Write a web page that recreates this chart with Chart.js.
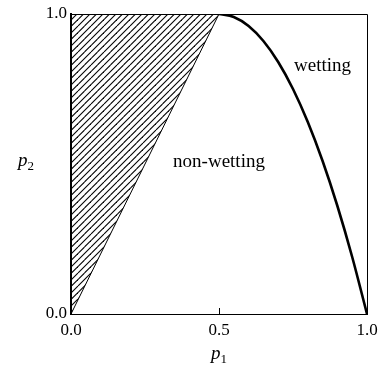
<!DOCTYPE html>
<html>
<head>
<meta charset="utf-8">
<script src="https://cdn.jsdelivr.net/npm/chart.js@4"></script>
<style>
  html, body { margin: 0; padding: 0; background: #fff; }
  #wrap { width: 379px; height: 376px; position: relative; }
</style>
</head>
<body>
<div id="wrap"><canvas id="chart1"></canvas></div>
<script>
// phase boundary p2(p1) between the non-wetting and wetting regions
const boundaryP1 = [0.5, 0.55, 0.6, 0.65, 0.7, 0.75, 0.8, 0.85, 0.9, 0.95, 1.0];
const boundaryP2 = [1.0, 0.99, 0.96, 0.91, 0.84, 0.75, 0.64, 0.51, 0.36, 0.19, 0.0];

// hatched (forbidden) triangle: edge from origin to the top of the boundary
const hatchP1 = [0.0, 0.5];
const hatchP2 = [0.0, 1.0];

const xTicks = [0.0, 0.5, 1.0];
const yTicks = [0.0, 1.0];

const regionLabels = [
  { text: 'wetting', x: 0.85, y: 0.825 },
  { text: 'non-wetting', x: 0.50, y: 0.505 }
];

const SERIF = '"Liberation Serif", "Times New Roman", serif';

// diagonal hatching pattern
function makeHatch() {
  const s = 13;
  const c = document.createElement('canvas');
  c.width = s; c.height = s;
  const g = c.getContext('2d');
  g.strokeStyle = '#000';
  g.lineWidth = 1.1;
  for (const k of [-s, -s / 2, 0, s / 2, s]) {
    g.beginPath();
    g.moveTo(k, s);
    g.lineTo(k + s, 0);
    g.stroke();
  }
  return g.createPattern(c, 'repeat');
}

// frame, tick mark, axis titles and region labels
const decor = {
  id: 'decor',
  afterDraw(chart) {
    const ctx = chart.ctx;
    const a = chart.chartArea;
    const xs = chart.scales.x, ys = chart.scales.y;
    ctx.save();
    ctx.strokeStyle = '#000';
    ctx.lineWidth = 1;
    ctx.beginPath();
    ctx.moveTo(a.left, a.top + 0.5);
    ctx.lineTo(a.right + 0.5, a.top + 0.5);
    ctx.lineTo(a.right + 0.5, a.bottom);
    ctx.stroke();

    // inner tick at the middle of the p1 axis
    const tx = Math.round(xs.getPixelForValue(xTicks[1])) + 0.5;
    ctx.beginPath();
    ctx.moveTo(tx, a.bottom);
    ctx.lineTo(tx, a.bottom - 6);
    ctx.stroke();

    ctx.fillStyle = '#000';
    ctx.textBaseline = 'alphabetic';

    function sym(sub, cx, cy) {
      ctx.font = 'italic 19px ' + SERIF;
      const wp = ctx.measureText('p').width;
      ctx.font = '13px ' + SERIF;
      const ws = ctx.measureText(sub).width;
      const x0 = cx - (wp + ws) / 2;
      ctx.font = 'italic 19px ' + SERIF;
      ctx.textAlign = 'left';
      ctx.fillText('p', x0, cy);
      ctx.font = '13px ' + SERIF;
      ctx.fillText(sub, x0 + wp, cy + 4);
    }
    sym('1', (a.left + a.right) / 2, 359);
    sym('2', 26, (a.top + a.bottom) / 2 + 2);

    ctx.font = '19px ' + SERIF;
    ctx.textAlign = 'center';
    ctx.textBaseline = 'middle';
    regionLabels.forEach(l => {
      ctx.fillText(l.text, xs.getPixelForValue(l.x), ys.getPixelForValue(l.y));
    });
    ctx.restore();
  }
};

new Chart(document.getElementById('chart1').getContext('2d'), {
  type: 'scatter',
  data: {
    datasets: [
      {
        data: hatchP1.map((v, i) => ({ x: v, y: hatchP2[i] })),
        showLine: true,
        fill: 'end',
        backgroundColor: makeHatch(),
        borderColor: '#000',
        borderWidth: 1,
        pointRadius: 0
      },
      {
        data: boundaryP1.map((v, i) => ({ x: v, y: boundaryP2[i] })),
        showLine: true,
        fill: false,
        borderColor: '#000',
        borderWidth: 2.6,
        cubicInterpolationMode: 'monotone',
        pointRadius: 0
      }
    ]
  },
  options: {
    responsive: true,
    maintainAspectRatio: false,
    animation: false,
    events: [],
    layout: { padding: { left: 0, top: 14, right: 12, bottom: 0 } },
    plugins: {
      legend: { display: false },
      tooltip: { enabled: false }
    },
    scales: {
      x: {
        type: 'linear', min: 0, max: 1,
        afterBuildTicks: s => { s.ticks = xTicks.map(v => ({ value: v })); },
        afterFit: s => { s.height = 62; s.paddingLeft = 0; s.paddingRight = 0; },
        grid: { display: false, drawTicks: false },
        border: { display: true, color: '#000', width: 1 },
        ticks: {
          color: '#000', padding: 6, maxRotation: 0, autoSkip: false,
          font: { family: SERIF, size: 17 },
          callback: v => v.toFixed(1)
        }
      },
      y: {
        type: 'linear', min: 0, max: 1,
        afterBuildTicks: s => { s.ticks = yTicks.map(v => ({ value: v })); },
        afterFit: s => { s.width = 71; s.paddingTop = 0; s.paddingBottom = 0; },
        grid: { display: false, drawTicks: false },
        border: { display: true, color: '#000', width: 2 },
        ticks: {
          color: '#000', padding: 4,
          font: { family: SERIF, size: 17 },
          callback: v => v.toFixed(1)
        }
      }
    }
  },
  plugins: [decor]
});
</script>
</body>
</html>
